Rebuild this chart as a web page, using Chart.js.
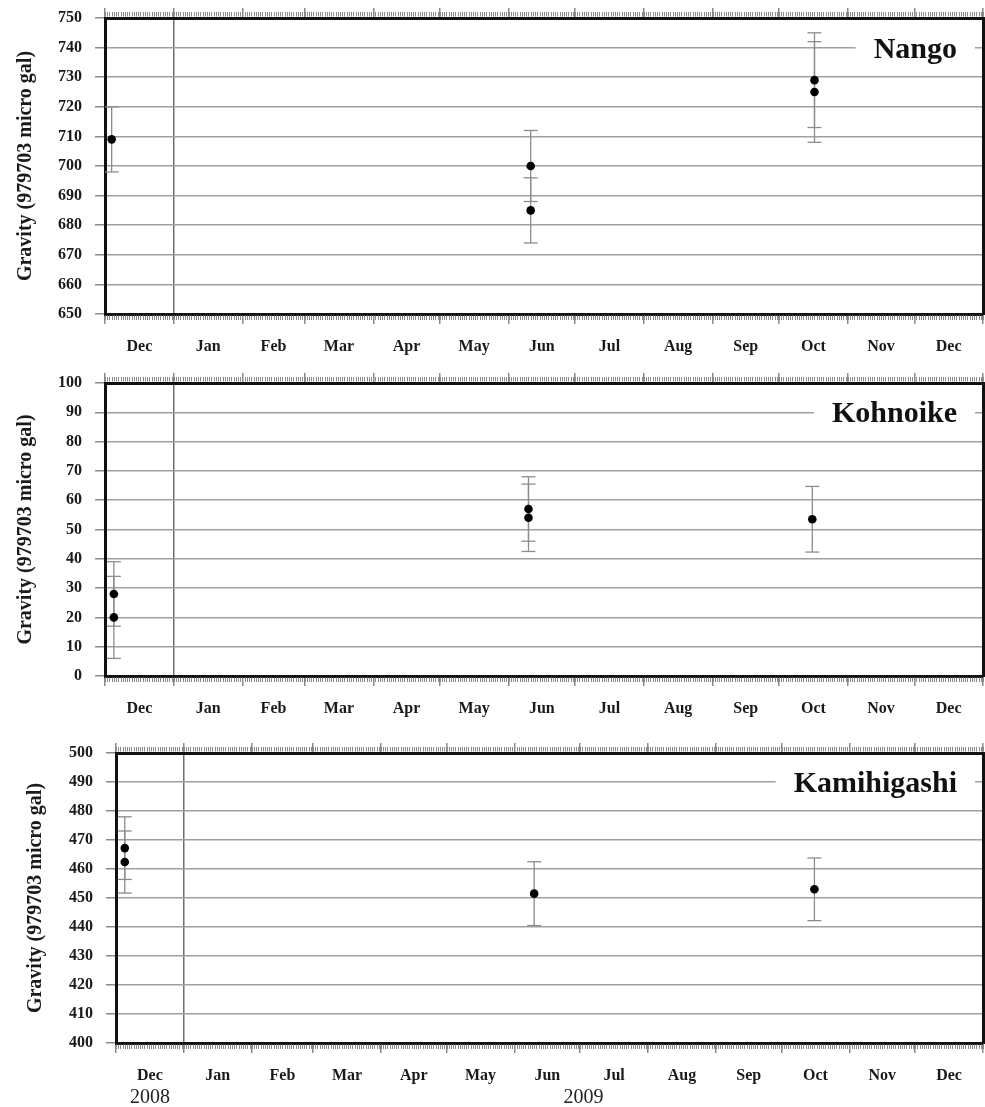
<!DOCTYPE html>
<html>
<head>
<meta charset="utf-8">
<script src="https://cdn.jsdelivr.net/npm/chart.js@4.4.1/dist/chart.umd.min.js"></script>
<style>
  body { margin: 0; background: #fff; }
  canvas { position: absolute; left: 0; }
</style>
</head>
<body>
<canvas id="nango" width="985" height="365" style="top:0px"></canvas>
<canvas id="kohnoike" width="985" height="370" style="top:365px"></canvas>
<canvas id="kamihigashi" width="985" height="372" style="top:735px"></canvas>
<script>
// time axis: month boundaries Dec 2008 .. Dec 2009
const monthLabels = ['Dec', 'Jan', 'Feb', 'Mar', 'Apr', 'May', 'Jun', 'Jul', 'Aug', 'Sep', 'Oct', 'Nov', 'Dec'];
const monthStarts = ['2008-12-01', '2009-01-01', '2009-02-01', '2009-03-01', '2009-04-01', '2009-05-01',
  '2009-06-01', '2009-07-01', '2009-08-01', '2009-09-01', '2009-10-01', '2009-11-01', '2009-12-01', '2010-01-01'];
const yearLabels = ['2008', '2009'];
const yearStarts = ['2008-12-01', '2009-01-01', '2010-01-01'];

// survey dates, gravity (979703 micro gal offset) and error bars
const nangoDates = ['2008-12-04', '2009-06-11', '2009-06-11', '2009-10-17', '2009-10-17'];
const nangoValues = [709, 700, 685, 729, 725];
const nangoErrors = [11, 12, 11, 16, 17];

const kohnoikeDates = ['2008-12-05', '2008-12-05', '2009-06-10', '2009-06-10', '2009-10-16'];
const kohnoikeValues = [28, 20, 57, 54, 53.5];
const kohnoikeErrors = [11, 14, 11, 11.5, 11.2];

const kamihigashiDates = ['2008-12-05', '2008-12-05', '2009-06-10', '2009-10-16'];
const kamihigashiValues = [467.2, 462.4, 451.5, 453];
const kamihigashiErrors = [10.8, 10.7, 11, 10.8];

const FONT = '"Liberation Serif", "Times New Roman", serif';
Chart.defaults.font.family = FONT;

const day = s => (Date.parse(s) - Date.parse(monthStarts[0])) / 864e5;
const boundaries = monthStarts.map(day);
const monthMids = monthLabels.map((m, i) => (boundaries[i] + boundaries[i + 1]) / 2);
const monthName = new Map(monthMids.map((v, i) => [v, monthLabels[i]]));
const yearBounds = yearStarts.map(day);
const yearMids = yearLabels.map((y, i) => (yearBounds[i] + yearBounds[i + 1]) / 2);
const yearName = new Map(yearMids.map((v, i) => [v, yearLabels[i]]));
const janLine = day('2009-01-01');
const CLEAR = 'rgba(0,0,0,0)';

// pin an axis to a fixed size and drop the label overhang padding
const pinSize = (prop, size) => s => {
    s[prop] = size;
    s.paddingLeft = s.paddingRight = s.paddingTop = s.paddingBottom = 0;
};

// short daily hatch marks along the top and bottom frame
const dayTicks = {
    id: 'dayTicks',
    beforeDatasetsDraw(chart) {
        const { ctx, chartArea: a, scales: { x } } = chart;
        ctx.save();
        ctx.strokeStyle = '#8a8a8a';
        ctx.lineWidth = 1;
        ctx.beginPath();
        for (let d = x.min; d <= x.max; d++) {
            const px = Math.round(x.getPixelForValue(d)) + 0.5;
            ctx.moveTo(px, a.top - 6);
            ctx.lineTo(px, a.top - 1.5);
            ctx.moveTo(px, a.bottom + 1.5);
            ctx.lineTo(px, a.bottom + 6);
        }
        ctx.stroke();
        ctx.restore();
    },
};

// station name in a white box sitting on the top gridline
const stationLabel = {
    id: 'stationLabel',
    afterDraw(chart, args, opts) {
        if (!opts.text) return;
        const { ctx, chartArea: a, scales: { y } } = chart;
        const py = y.getPixelForValue(y.max - 10);
        ctx.save();
        ctx.font = 'bold 30px ' + FONT;
        const w = ctx.measureText(opts.text).width;
        const right = a.right - 26;
        ctx.fillStyle = '#fff';
        ctx.fillRect(right - w - 18, py - 14, w + 36, 28);
        ctx.fillStyle = '#111';
        ctx.textAlign = 'right';
        ctx.textBaseline = 'alphabetic';
        ctx.fillText(opts.text, right, py + 10);
        ctx.restore();
    },
};

function makePanel(id, name, dates, values, errors, yMin, yMax, leftWidth, titlePad, bottomHeight, withYears) {
    const xs = dates.map(day);
    const errorSets = xs.map((x, i) => ({
        data: [{ x, y: values[i] - errors[i] }, { x, y: values[i] + errors[i] }],
        showLine: true,
        borderColor: '#8c8c8c',
        borderWidth: 1.3,
        pointStyle: 'line',
        pointRadius: 7,
        pointBorderColor: '#8c8c8c',
        pointBorderWidth: 1.3,
        order: 1,
    }));
    const points = {
        data: xs.map((x, i) => ({ x, y: values[i] })),
        pointRadius: 4.3,
        backgroundColor: '#000',
        borderWidth: 0,
        order: 0,
    };

    const xMin = boundaries[0];
    const xMax = boundaries[boundaries.length - 1];
    const scales = {
        x: {
            type: 'linear', position: 'bottom', weight: 0, min: xMin, max: xMax,
            afterBuildTicks: s => { s.ticks = boundaries.concat(monthMids).sort((a, b) => a - b).map(v => ({ value: v })); },
            afterFit: pinSize('height', bottomHeight),
            ticks: {
                autoSkip: false, maxRotation: 0, padding: 13, color: '#1a1a1a',
                font: { size: 16, weight: 'bold' },
                callback: v => monthName.get(v) || '',
            },
            grid: {
                color: c => (c.tick && c.tick.value === janLine ? '#6e6e6e' : CLEAR),
                lineWidth: 1.5,
                tickLength: 10,
                tickColor: c => (c.tick && boundaries.includes(c.tick.value) ? '#8a8a8a' : CLEAR),
                tickWidth: 1.5,
            },
            border: { color: '#111', width: 3 },
        },
        x2: {
            type: 'linear', position: 'top', min: xMin, max: xMax,
            afterBuildTicks: s => { s.ticks = boundaries.map(v => ({ value: v })); },
            afterFit: pinSize('height', 18),
            ticks: { display: false },
            grid: { drawOnChartArea: false, tickLength: 10, color: '#8a8a8a', lineWidth: 1.5 },
            border: { color: '#111', width: 3 },
        },
        y: {
            type: 'linear', position: 'left', min: yMin, max: yMax,
            afterFit: pinSize('width', leftWidth),
            ticks: { stepSize: 10, padding: 13, color: '#1a1a1a', font: { size: 16, weight: 'bold' } },
            grid: {
                color: c => (c.tick && (c.tick.value === yMin || c.tick.value === yMax) ? CLEAR : '#a0a0a0'),
                lineWidth: 1.5,
                tickLength: 10,
                tickColor: '#8a8a8a',
            },
            border: { color: '#111', width: 3 },
            title: {
                display: true,
                text: 'Gravity (979703 micro gal)',
                color: '#1a1a1a',
                font: { size: 20, weight: 'bold' },
                padding: { top: titlePad, bottom: 0 },
            },
        },
        yR: {
            type: 'linear', position: 'right', min: yMin, max: yMax,
            afterFit: pinSize('width', 2),
            ticks: { display: false },
            grid: { display: false, drawTicks: false },
            border: { color: '#111', width: 3 },
        },
    };
    if (withYears) {
        scales.xYear = {
            type: 'linear', position: 'bottom', weight: 1, min: xMin, max: xMax,
            afterBuildTicks: s => { s.ticks = yearMids.map(v => ({ value: v })); },
            afterFit: pinSize('height', 21),
            ticks: {
                autoSkip: false, maxRotation: 0, padding: 0, color: '#222',
                font: { size: 20, weight: 'normal' },
                callback: v => yearName.get(v) || '',
            },
            grid: { display: false, drawTicks: false },
            border: { display: false },
        };
    }

    return new Chart(document.getElementById(id), {
        type: 'scatter',
        data: { datasets: [points, ...errorSets] },
        options: {
            responsive: false,
            animation: false,
            events: [],
            layout: { padding: 0, autoPadding: false },
            scales,
            plugins: {
                legend: { display: false },
                tooltip: { enabled: false },
                stationLabel: { text: name },
            },
        },
        plugins: [dayTicks, stationLabel],
    });
}

makePanel('nango', 'Nango', nangoDates, nangoValues, nangoErrors, 650, 750, 105, 14, 51, false);
makePanel('kohnoike', 'Kohnoike', kohnoikeDates, kohnoikeValues, kohnoikeErrors, 0, 100, 105, 14, 59, false);
makePanel('kamihigashi', 'Kamihigashi', kamihigashiDates, kamihigashiValues, kamihigashiErrors, 400, 500, 116, 24, 43, true);
</script>
</body>
</html>
